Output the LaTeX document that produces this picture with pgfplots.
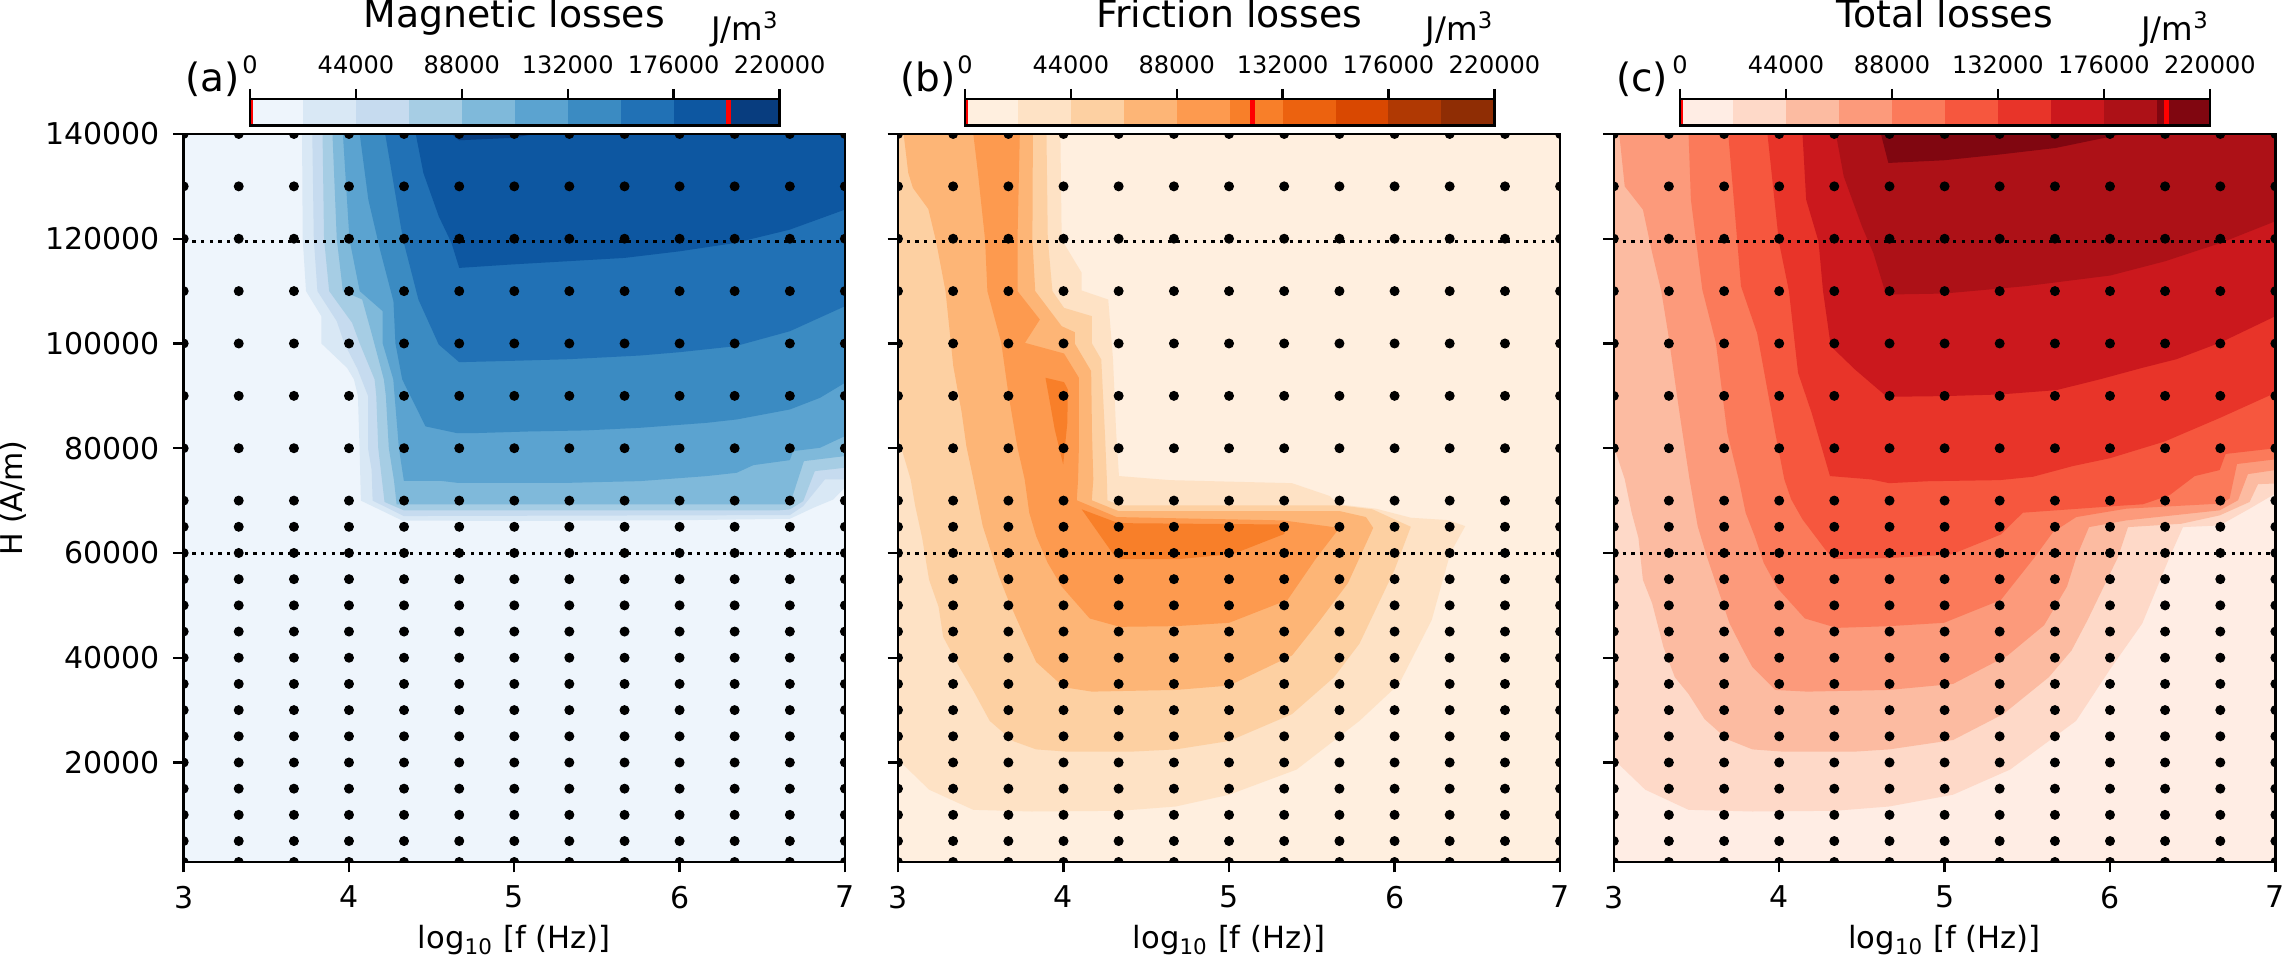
\documentclass[border=0pt]{standalone}
\usepackage{fontspec}
\setmainfont{DejaVu Sans}
\usepackage{pgfplots}
\usepackage{pgfplotstable}
\pgfplotsset{compat=1.18}
% Blues
\definecolor{b0}{RGB}{238,245,252}\definecolor{b1}{RGB}{217,232,245}\definecolor{b2}{RGB}{198,219,239}\definecolor{b3}{RGB}{166,205,228}\definecolor{b4}{RGB}{127,185,218}
\definecolor{b5}{RGB}{91,163,208}\definecolor{b6}{RGB}{59,139,194}\definecolor{b7}{RGB}{33,113,181}\definecolor{b8}{RGB}{13,87,161}\definecolor{b9}{RGB}{8,61,127}
% Oranges
\definecolor{o0}{RGB}{255,239,223}\definecolor{o1}{RGB}{254,226,197}\definecolor{o2}{RGB}{253,208,162}\definecolor{o3}{RGB}{253,181,118}\definecolor{o4}{RGB}{253,154,79}
\definecolor{o5}{RGB}{248,127,41}\definecolor{o6}{RGB}{236,98,15}\definecolor{o7}{RGB}{217,72,1}\definecolor{o8}{RGB}{176,57,3}\definecolor{o9}{RGB}{143,45,4}
% Reds
\definecolor{r0}{RGB}{255,237,228}\definecolor{r1}{RGB}{254,217,200}\definecolor{r2}{RGB}{252,187,161}\definecolor{r3}{RGB}{252,154,123}\definecolor{r4}{RGB}{251,122,90}
\definecolor{r5}{RGB}{246,87,62}\definecolor{r6}{RGB}{232,52,41}\definecolor{r7}{RGB}{203,24,29}\definecolor{r8}{RGB}{173,17,23}\definecolor{r9}{RGB}{128,6,16}

\pgfplotstableread[row sep=crcr]{x y\\
3 1000\\3.333 1000\\3.667 1000\\4 1000\\4.333 1000\\4.667 1000\\5 1000\\5.333 1000\\5.667 1000\\6 1000\\6.333 1000\\6.667 1000\\7 1000\\
3 5000\\3.333 5000\\3.667 5000\\4 5000\\4.333 5000\\4.667 5000\\5 5000\\5.333 5000\\5.667 5000\\6 5000\\6.333 5000\\6.667 5000\\7 5000\\
3 10000\\3.333 10000\\3.667 10000\\4 10000\\4.333 10000\\4.667 10000\\5 10000\\5.333 10000\\5.667 10000\\6 10000\\6.333 10000\\6.667 10000\\7 10000\\
3 15000\\3.333 15000\\3.667 15000\\4 15000\\4.333 15000\\4.667 15000\\5 15000\\5.333 15000\\5.667 15000\\6 15000\\6.333 15000\\6.667 15000\\7 15000\\
3 20000\\3.333 20000\\3.667 20000\\4 20000\\4.333 20000\\4.667 20000\\5 20000\\5.333 20000\\5.667 20000\\6 20000\\6.333 20000\\6.667 20000\\7 20000\\
3 25000\\3.333 25000\\3.667 25000\\4 25000\\4.333 25000\\4.667 25000\\5 25000\\5.333 25000\\5.667 25000\\6 25000\\6.333 25000\\6.667 25000\\7 25000\\
3 30000\\3.333 30000\\3.667 30000\\4 30000\\4.333 30000\\4.667 30000\\5 30000\\5.333 30000\\5.667 30000\\6 30000\\6.333 30000\\6.667 30000\\7 30000\\
3 35000\\3.333 35000\\3.667 35000\\4 35000\\4.333 35000\\4.667 35000\\5 35000\\5.333 35000\\5.667 35000\\6 35000\\6.333 35000\\6.667 35000\\7 35000\\
3 40000\\3.333 40000\\3.667 40000\\4 40000\\4.333 40000\\4.667 40000\\5 40000\\5.333 40000\\5.667 40000\\6 40000\\6.333 40000\\6.667 40000\\7 40000\\
3 45000\\3.333 45000\\3.667 45000\\4 45000\\4.333 45000\\4.667 45000\\5 45000\\5.333 45000\\5.667 45000\\6 45000\\6.333 45000\\6.667 45000\\7 45000\\
3 50000\\3.333 50000\\3.667 50000\\4 50000\\4.333 50000\\4.667 50000\\5 50000\\5.333 50000\\5.667 50000\\6 50000\\6.333 50000\\6.667 50000\\7 50000\\
3 55000\\3.333 55000\\3.667 55000\\4 55000\\4.333 55000\\4.667 55000\\5 55000\\5.333 55000\\5.667 55000\\6 55000\\6.333 55000\\6.667 55000\\7 55000\\
3 60000\\3.333 60000\\3.667 60000\\4 60000\\4.333 60000\\4.667 60000\\5 60000\\5.333 60000\\5.667 60000\\6 60000\\6.333 60000\\6.667 60000\\7 60000\\
3 65000\\3.333 65000\\3.667 65000\\4 65000\\4.333 65000\\4.667 65000\\5 65000\\5.333 65000\\5.667 65000\\6 65000\\6.333 65000\\6.667 65000\\7 65000\\
3 70000\\3.333 70000\\3.667 70000\\4 70000\\4.333 70000\\4.667 70000\\5 70000\\5.333 70000\\5.667 70000\\6 70000\\6.333 70000\\6.667 70000\\7 70000\\
3 80000\\3.333 80000\\3.667 80000\\4 80000\\4.333 80000\\4.667 80000\\5 80000\\5.333 80000\\5.667 80000\\6 80000\\6.333 80000\\6.667 80000\\7 80000\\
3 90000\\3.333 90000\\3.667 90000\\4 90000\\4.333 90000\\4.667 90000\\5 90000\\5.333 90000\\5.667 90000\\6 90000\\6.333 90000\\6.667 90000\\7 90000\\
3 100000\\3.333 100000\\3.667 100000\\4 100000\\4.333 100000\\4.667 100000\\5 100000\\5.333 100000\\5.667 100000\\6 100000\\6.333 100000\\6.667 100000\\7 100000\\
3 110000\\3.333 110000\\3.667 110000\\4 110000\\4.333 110000\\4.667 110000\\5 110000\\5.333 110000\\5.667 110000\\6 110000\\6.333 110000\\6.667 110000\\7 110000\\
3 120000\\3.333 120000\\3.667 120000\\4 120000\\4.333 120000\\4.667 120000\\5 120000\\5.333 120000\\5.667 120000\\6 120000\\6.333 120000\\6.667 120000\\7 120000\\
3 130000\\3.333 130000\\3.667 130000\\4 130000\\4.333 130000\\4.667 130000\\5 130000\\5.333 130000\\5.667 130000\\6 130000\\6.333 130000\\6.667 130000\\7 130000\\
3 140000\\3.333 140000\\3.667 140000\\4 140000\\4.333 140000\\4.667 140000\\5 140000\\5.333 140000\\5.667 140000\\6 140000\\6.333 140000\\6.667 140000\\7 140000\\
}\griddots

\pgfplotsset{
  panel/.style={
    scale only axis, height=242.67pt,
    xmin=3, xmax=7, ymin=1000, ymax=140000,
    xtick={3,4,5,6,7},
    ytick={20000,40000,60000,80000,100000,120000,140000},
    scaled ticks=false,
    axis on top, clip=true, clip marker paths=true,
    tick align=outside, major tick length=3.5pt,
    xtick pos=bottom, ytick pos=left,
    every tick/.style={black,line width=0.8pt},
    axis line style={black,line width=0.8pt},
    /pgf/number format/assume math mode=true,
    /pgf/number format/fixed, /pgf/number format/1000 sep={},
    tick label style={font=\fontsize{10}{12}\selectfont},
    xticklabel style={yshift=-1pt},
    yticklabel style={xshift=-1pt},
  },
  cbar/.style={
    scale only axis, height=8.8pt,
    xmin=0, xmax=220000, ymin=0, ymax=1,
    xtick={0,44000,88000,132000,176000,220000},
    scaled ticks=false,
    ytick=\empty, axis on top, clip=true,
    tick align=outside, major tick length=3.5pt,
    xtick pos=upper,
    xticklabel pos=upper,
    every tick/.style={black,line width=0.8pt},
    axis line style={black,line width=0.8pt},
    /pgf/number format/assume math mode=true,
    /pgf/number format/fixed, /pgf/number format/1000 sep={},
    tick label style={font=\fontsize{8}{9.6}\selectfont},
    xticklabel style={yshift=1.5pt},
  },
  contour/.style={fill=#1,draw=none,mark=none},
  refline/.style={black,line width=1.1pt,dash pattern=on 1.1pt off 1.8pt},
  gridmark/.style={only marks,mark=*,mark size=1.45pt,mark options={fill=black,draw=none}},
  bar/.style={fill=#1,draw=none,mark=none},
}

\newcommand{\bars}[1]{%
  \addplot[bar=#10] coordinates {(0,0)(22000,0)(22000,1)(0,1)};
  \addplot[bar=#11] coordinates {(22000,0)(44000,0)(44000,1)(22000,1)};
  \addplot[bar=#12] coordinates {(44000,0)(66000,0)(66000,1)(44000,1)};
  \addplot[bar=#13] coordinates {(66000,0)(88000,0)(88000,1)(66000,1)};
  \addplot[bar=#14] coordinates {(88000,0)(110000,0)(110000,1)(88000,1)};
  \addplot[bar=#15] coordinates {(110000,0)(132000,0)(132000,1)(110000,1)};
  \addplot[bar=#16] coordinates {(132000,0)(154000,0)(154000,1)(132000,1)};
  \addplot[bar=#17] coordinates {(154000,0)(176000,0)(176000,1)(154000,1)};
  \addplot[bar=#18] coordinates {(176000,0)(198000,0)(198000,1)(176000,1)};
  \addplot[bar=#19] coordinates {(198000,0)(220000,0)(220000,1)(198000,1)};
}

\begin{document}
\begin{tikzpicture}
\path[use as bounding box] (0pt,0pt) rectangle (761.67pt,319.33pt);

%=============== (a)
\begin{axis}[panel, at={(61.23pt,32pt)}, anchor=south west, width=220.4pt]
\addplot[contour=b0] coordinates {(3,1000)(7,1000)(7,140000)(3,140000)};
\addplot[contour=b1] coordinates {(3.716,140000)(3.72,120000)(3.74,110000)(3.833,105200)(3.833,100000)(3.988,95350)(4.03,93140)(4.054,90000)(4.064,80000)(4.072,70000)(4.322,66200)(5,66100)(6,66250)(6.667,66530)(6.81,68640)(6.93,70220)(7,72500)(7,140000)};
\addplot[contour=b2] coordinates {(3.778,140000)(3.787,120000)(3.809,110000)(3.926,104260)(3.972,100000)(4.05,95230)(4.115,90000)(4.115,80000)(4.137,75830)(4.143,70000)(4.332,67050)(6.667,67235)(6.748,68950)(6.879,74040)(7,74040)(7,140000)};
\addplot[contour=b3] coordinates {(3.84,140000)(3.849,120000)(3.88,110000)(4.019,103940)(4.065,100000)(4.155,93140)(4.165,90000)(4.177,80000)(4.215,69740)(4.332,68140)(6.6,68140)(6.667,68320)(6.748,69900)(6.818,75630)(7,76270)(7,140000)};
\addplot[contour=b4] coordinates {(3.90,140000)(3.926,120000)(3.963,110000)(4.08,108400)(4.136,102030)(4.211,93140)(4.223,90000)(4.241,80000)(4.272,73910)(4.288,69300)(6.667,69270)(6.752,77540)(7,78500)(7,140000)};
\addplot[contour=b5] coordinates {(3.963,140000)(4.003,119840)(4.065,110000)(4.204,106160)(4.204,100000)(4.268,93140)(4.276,90000)(4.302,80000)(4.332,73780)(4.553,73780)(4.654,73400)(5.338,73400)(5.58,73590)(5.76,73720)(6.163,74680)(6.345,75310)(6.446,76770)(6.667,77730)(6.687,79450)(6.849,80080)(7,82310)(7,140000)};
\addplot[contour=b6] coordinates {(4.065,140000)(4.117,127470)(4.19,117610)(4.269,108070)(4.281,100000)(4.322,93140)(4.463,84170)(4.654,82880)(4.755,82880)(5.087,83200)(5.429,83400)(5.76,83900)(6.163,84850)(6.345,85490)(6.667,87400)(6.849,89620)(7,92480)(7,140000)};
\addplot[contour=b7] coordinates {(4.219,140000)(4.327,119840)(4.42,108390)(4.543,99800)(4.667,96430)(5,96700)(5.33,97000)(5.76,97700)(6,98340)(6.337,99480)(6.667,102340)(7,107110)(7,140000)};
\addplot[contour=b8] coordinates {(4.404,140000)(4.45,132560)(4.543,124290)(4.62,119200)(4.667,114430)(4.975,115070)(5.667,116340)(6,117600)(6.337,119200)(6.667,121740)(7,125560)(7,140000)};
\addplot[contour=b9] coordinates {(4.62,140000)(4.667,138800)(4.975,139240)(5.13,140000)};
\addplot[gridmark] table[x=x,y=y] {\griddots};
\addplot[refline] coordinates {(3,119500)(7,119500)};
\addplot[refline] coordinates {(3,59900)(7,59900)};
\end{axis}
\begin{axis}[cbar, at={(83.33pt,277.43pt)}, anchor=south west, width=176.53pt]
\bars{b}
\addplot[red,line width=1.7pt] coordinates {(0,0)(0,1)};
\addplot[red,line width=1.7pt] coordinates {(198800,0)(198800,1)};
\end{axis}

%=============== (b)
\begin{axis}[panel, at={(299.33pt,32pt)}, anchor=south west, width=220.7pt, yticklabels={}]
\addplot[contour=o0] coordinates {(3,1000)(7,1000)(7,140000)(3,140000)};
\addplot[contour=o1] coordinates {(3,140000)(3.981,140000)(3.989,119840)(4.11,113480)(4.11,110110)(4.27,108390)(4.299,96940)(4.318,82950)(4.335,74690)(4.643,73910)(5.044,73590)(5.38,73330)(5.606,70900)(5.662,69290)(5.887,68460)(6.098,66730)(6.322,66280)(6.427,65130)(6.337,60000)(6.224,47180)(6.027,35000)(5.788,27950)(5.408,18650)(5,13850)(4.678,11600)(4.34,10770)(3.807,10640)(3.455,10960)(3.188,14810)(3,20580)};
\addplot[contour=o2] coordinates {(3,140000)(3.897,140000)(3.905,119840)(3.933,110000)(4.003,106800)(4.172,105210)(4.172,100000)(4.228,96940)(4.25,82950)(4.262,74050)(4.265,70060)(4.341,69100)(5.667,69100)(5.867,68330)(6.098,65000)(6,56800)(5.788,42700)(5.634,36280)(5.38,29230)(5,24100)(4.678,22500)(4.397,22050)(4.03,22050)(3.835,22500)(3.694,24100)(3.554,27950)(3.455,33720)(3.371,38200)(3.273,43980)(3.245,49740)(3.188,54870)(3.146,62880)(3.104,68970)(3.076,74100)(3.02,80090)(3,83000)};
\addplot[contour=o3] coordinates {(3.034,140000)(3.815,140000)(3.812,119840)(3.829,110000)(3.989,103300)(4.068,102160)(4.068,100000)(4.167,94720)(4.172,82950)(4.18,74050)(4.171,70060)(4.331,68010)(5.667,68010)(5.827,66860)(5.871,64800)(5.718,54230)(5.55,47180)(5.381,40450)(5,34680)(4.678,33850)(4.172,33530)(4.003,34360)(3.835,39170)(3.765,43980)(3.666,51030)(3.61,55510)(3.512,65130)(3.455,74100)(3.413,80410)(3.385,86770)(3.334,95670)(3.287,110000)(3.23,119520)(3.183,125690)(3.09,129700)(3.062,132560)};
\addplot[contour=o4] coordinates {(3.455,140000)(3.736,140000)(3.722,119840)(3.722,110000)(3.857,104570)(3.767,100120)(4.003,98090)(4.093,93450)(4.093,80410)(4.088,74050)(4.08,70060)(4.321,66860)(5.325,66220)(5.667,64800)(5.52,58720)(5.353,51030)(5,46670)(4.678,46030)(4.34,45900)(4.158,47500)(3.989,53590)(3.905,58080)(3.835,63200)(3.793,67690)(3.765,74100)(3.722,80090)(3.666,90580)(3.624,100120)(3.54,110000)(3.526,119840)(3.483,132560)};
\addplot[contour=o5] coordinates {(3.891,93450)(4.003,92620)(4.026,91220)(4.023,84860)(3.998,76910)(3.947,83590)};
\addplot[contour=o5] coordinates {(4.11,68330)(4.331,65700)(5.325,65440)(5.335,63650)(5.024,59800)(4.703,58850)(4.341,58850)(4.3,59800)};
\addplot[gridmark] table[x=x,y=y] {\griddots};
\addplot[refline] coordinates {(3,119500)(7,119500)};
\addplot[refline] coordinates {(3,59900)(7,59900)};
\end{axis}
\begin{axis}[cbar, at={(321.67pt,277.43pt)}, anchor=south west, width=176.43pt]
\bars{o}
\addplot[red,line width=1.7pt] coordinates {(0,0)(0,1)};
\addplot[red,line width=1.7pt] coordinates {(119400,0)(119400,1)};
\end{axis}

%=============== (c)
\begin{axis}[panel, at={(537.93pt,32pt)}, anchor=south west, width=220.53pt, yticklabels={}]
\addplot[contour=r0] coordinates {(3,1000)(7,1000)(7,140000)(3,140000)};
\addplot[contour=r1] coordinates {(3,20580)(3.19,14810)(3.452,10960)(3.838,10640)(4.334,10770)(4.665,11600)(5.051,13850)(5.396,18650)(5.795,27950)(6.002,37880)(6.195,46540)(6.333,57120)(6.36,59170)(6.441,64940)(6.663,65260)(6.844,68460)(7,71350)(7,140000)(3,140000)};
\addplot[contour=r2] coordinates {(3,80400)(3.066,74100)(3.108,67690)(3.149,62880)(3.176,54870)(3.232,50380)(3.3,42050)(3.369,36280)(3.452,33080)(3.549,28270)(3.686,24420)(3.838,22500)(4.031,22050)(4.445,22050)(4.665,22500)(5.051,24290)(5.354,29230)(5.63,36280)(5.768,41410)(5.864,47180)(6.048,59170)(6.109,64940)(6.431,65580)(6.663,67180)(6.844,69740)(6.895,73140)(7,73270)(7,140000)(3,140000)};
\addplot[contour=r3] coordinates {(3.033,140000)(3.066,130000)(3.176,125560)(3.232,117300)(3.287,110000)(3.328,102030)(3.397,86770)(3.458,74050)(3.507,65130)(3.562,59360)(3.631,52950)(3.7,46540)(3.783,41410)(3.838,38200)(3.976,33850)(4.169,33530)(4.665,33850)(5.051,35000)(5.382,40450)(5.602,46220)(5.74,53590)(5.796,59170)(5.873,64940)(6.098,66220)(6.663,68140)(6.774,70060)(6.834,75060)(7,75830)(7,140000)};
\addplot[contour=r4] coordinates {(3.452,140000)(3.466,127470)(3.535,110300)(3.617,100120)(3.686,82950)(3.755,74100)(3.797,67690)(3.852,63200)(3.907,58080)(3.99,53270)(4.155,47500)(4.348,45700)(4.665,46030)(4.996,46670)(5.34,51030)(5.544,59170)(5.655,63970)(5.796,66860)(6.098,68460)(6.663,69420)(6.723,70380)(6.768,76990)(7,77880)(7,140000)};
\addplot[contour=r5] coordinates {(3.692,140000)(3.742,121240)(3.769,110940)(3.866,102030)(3.976,82950)(4.031,74050)(4.072,70260)(4.141,66410)(4.279,60640)(4.329,58850)(4.665,59040)(5.037,59680)(5.34,63530)(5.473,67690)(6.098,69100)(6.199,69300)(6.36,71030)(6.512,74680)(6.663,75830)(6.699,78910)(7,80000)(7,140000)};
\addplot[contour=r6] coordinates {(3.929,140000)(3.998,119460)(4.059,110000)(4.114,94400)(4.196,86770)(4.307,74690)(4.555,74050)(4.665,73330)(4.9,73700)(5.332,73910)(5.534,74550)(5.776,76600)(5.998,78080)(6.33,81280)(6.663,85770)(7,90580)(7,140000)};
\addplot[contour=r7] coordinates {(4.141,140000)(4.163,127470)(4.238,119460)(4.265,110000)(4.312,99490)(4.458,95040)(4.651,89820)(4.996,89950)(5.332,90260)(5.675,91090)(5.937,93140)(6.199,95380)(6.401,96990)(6.669,100200)(7,105210)(7,140000)};
\addplot[contour=r8] coordinates {(4.343,140000)(4.39,131920)(4.5,122380)(4.569,117300)(4.646,109340)(4.996,109530)(5.492,110950)(6.002,112980)(6.333,115700)(6.669,119200)(7,123340)(7,140000)};
\addplot[contour=r9] coordinates {(4.615,140000)(4.66,134470)(4.996,134980)(5.327,136060)(5.671,137330)(6.08,140000)};
\addplot[gridmark] table[x=x,y=y] {\griddots};
\addplot[refline] coordinates {(3,119500)(7,119500)};
\addplot[refline] coordinates {(3,59900)(7,59900)};
\end{axis}
\begin{axis}[cbar, at={(560pt,277.43pt)}, anchor=south west, width=176.6pt]
\bars{r}
\addplot[red,line width=1.7pt] coordinates {(0,0)(0,1)};
\addplot[red,line width=1.7pt] coordinates {(202000,0)(202000,1)};
\end{axis}

%=============== text
\newcommand{\xlab}{log\textsubscript{10} [f (Hz)]}
\node[anchor=base,font=\fontsize{12.6}{15}\selectfont] at (171.4pt,310pt) {Magnetic losses};
\node[anchor=base,font=\fontsize{12.6}{15}\selectfont] at (409.7pt,310pt) {Friction losses};
\node[anchor=base,font=\fontsize{12.6}{15}\selectfont] at (648.2pt,310pt) {Total losses};
\node[anchor=base east,inner sep=0pt,font=\fontsize{10.8}{13}\selectfont] at (259.9pt,305.8pt) {J/m\textsuperscript{3}};
\node[anchor=base east,inner sep=0pt,font=\fontsize{10.8}{13}\selectfont] at (498.1pt,305.8pt) {J/m\textsuperscript{3}};
\node[anchor=base east,inner sep=0pt,font=\fontsize{10.8}{13}\selectfont] at (736.6pt,305.8pt) {J/m\textsuperscript{3}};
\node[anchor=base west,inner sep=0pt,font=\fontsize{13}{15}\selectfont] at (61.7pt,288.7pt) {(a)};
\node[anchor=base west,inner sep=0pt,font=\fontsize{13}{15}\selectfont] at (300pt,288.7pt) {(b)};
\node[anchor=base west,inner sep=0pt,font=\fontsize{13}{15}\selectfont] at (538.5pt,288.7pt) {(c)};
\node[anchor=base,inner sep=0pt,font=\fontsize{10.2}{12}\selectfont] at (171.4pt,3pt) {\xlab};
\node[anchor=base,inner sep=0pt,font=\fontsize{10.2}{12}\selectfont] at (409.7pt,3pt) {\xlab};
\node[anchor=base,inner sep=0pt,font=\fontsize{10.2}{12}\selectfont] at (648.2pt,3pt) {\xlab};
\node[rotate=90,anchor=base,inner sep=0pt,font=\fontsize{10}{12}\selectfont] at (7.5pt,153.3pt) {H (A/m)};
\end{tikzpicture}
\end{document}
